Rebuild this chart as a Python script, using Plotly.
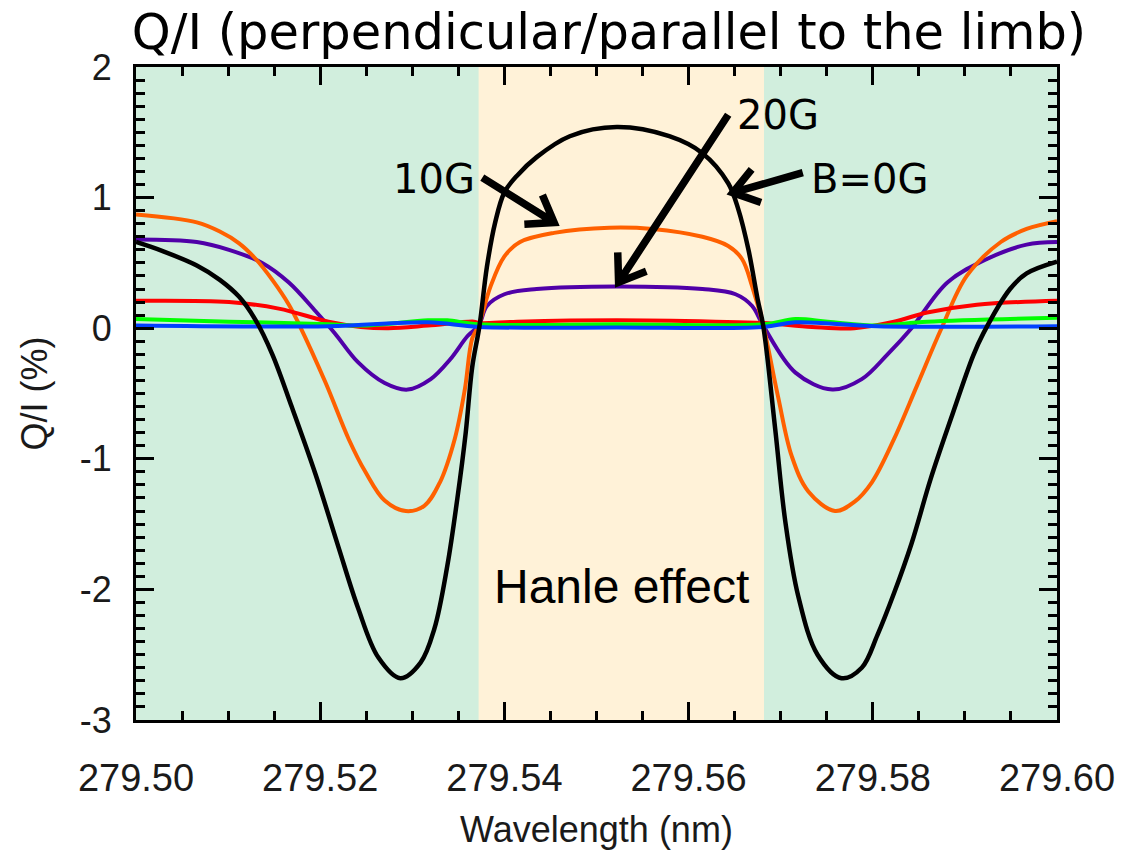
import math
import plotly.graph_objects as go

# ---------------- data ----------------
x_b0 = [279.5000, 279.5029, 279.5066, 279.5091, 279.5112, 279.5130, 279.5148, 279.5169, 279.5195,
        279.5220, 279.5241, 279.5263, 279.5287, 279.5309, 279.5324, 279.5338, 279.5349, 279.5358,
        279.5365, 279.5373, 279.5381, 279.5390, 279.5400, 279.5414, 279.5435, 279.5471, 279.5522,
        279.5579, 279.5615, 279.5643, 279.5654, 279.5665, 279.5675, 279.5681, 279.5694, 279.5705,
        279.5719, 279.5740, 279.5766, 279.5788, 279.5805, 279.5823, 279.5842, 279.5863, 279.5885,
        279.5909, 279.5920, 279.5949, 279.5967, 279.6000]
y_b0 = [0.66, 0.59, 0.48, 0.37, 0.24, 0.06, -0.20, -0.60, -1.12,
        -1.68, -2.14, -2.52, -2.68, -2.56, -2.30, -1.82, -1.30, -0.80,
        -0.30, 0.02, 0.47, 0.81, 1.04, 1.17, 1.31, 1.47, 1.54,
        1.47, 1.34, 1.11, 0.91, 0.60, 0.22, 0.02, -0.77, -1.48,
        -2.05, -2.50, -2.68, -2.60, -2.35, -2.03, -1.65, -1.15, -0.69,
        -0.21, -0.04, 0.30, 0.42, 0.51]

x_b10 = [279.5000, 279.5066, 279.5091, 279.5112, 279.5130, 279.5148, 279.5166, 279.5177, 279.5206,
         279.5231, 279.5249, 279.5270, 279.5293, 279.5313, 279.5330, 279.5346, 279.5357, 279.5365,
         279.5372, 279.5385, 279.5400, 279.5417, 279.5454, 279.5514, 279.5561, 279.5615, 279.5643,
         279.5658, 279.5669, 279.5681, 279.5697, 279.5712, 279.5730, 279.5759, 279.5780, 279.5799,
         279.5823, 279.5848, 279.5874, 279.5902, 279.5939, 279.5967, 279.6000]
y_b10 = [0.87, 0.81, 0.74, 0.65, 0.53, 0.37, 0.18, 0.03, -0.42,
         -0.85, -1.10, -1.32, -1.40, -1.36, -1.18, -0.85, -0.47, -0.08,
         0.02, 0.32, 0.55, 0.66, 0.73, 0.77, 0.76, 0.70, 0.63,
         0.53, 0.32, 0.02, -0.52, -0.98, -1.25, -1.40, -1.33, -1.18,
         -0.85, -0.44, -0.01, 0.40, 0.66, 0.76, 0.82]

x_b20 = [279.5000, 279.5066, 279.5101, 279.5137, 279.5166, 279.5195, 279.5216, 279.5241, 279.5270,
         279.5295, 279.5320, 279.5341, 279.5360, 279.5372, 279.5381, 279.5400, 279.5435, 279.5522,
         279.5615, 279.5651, 279.5669, 279.5681, 279.5716, 279.5756, 279.5788, 279.5816, 279.5842,
         279.5881, 279.5924, 279.5967, 279.6000]
y_b20 = [0.68, 0.66, 0.60, 0.50, 0.35, 0.13, -0.04, -0.26, -0.42,
         -0.47, -0.39, -0.24, -0.06, 0.02, 0.17, 0.26, 0.30, 0.32,
         0.30, 0.26, 0.17, 0.02, -0.34, -0.47, -0.39, -0.20, 0.00,
         0.35, 0.53, 0.64, 0.66]

x_b50 = [279.5000, 279.5101, 279.5155, 279.5209, 279.5244, 279.5274, 279.5317, 279.5367, 279.5372,
         279.5414, 279.5522, 279.5629, 279.5681, 279.5734, 279.5780, 279.5823, 279.5859, 279.5913, 279.6000]
y_b50 = [0.21, 0.20, 0.15, 0.05, 0.01, 0.00, 0.02, 0.05, 0.04,
         0.05, 0.06, 0.05, 0.04, 0.01, 0.00, 0.05, 0.12, 0.18, 0.21]

x_b100 = [279.5000, 279.5101, 279.5209, 279.5244, 279.5317, 279.5338, 279.5372, 279.5522, 279.5681,
          279.5716, 279.5751, 279.5805, 279.5859, 279.6000]
y_b100 = [0.07, 0.05, 0.03, 0.02, 0.06, 0.06, 0.03, 0.03, 0.03,
          0.07, 0.05, 0.02, 0.05, 0.08]

x_b200 = [279.5000, 279.5209, 279.5317, 279.5372, 279.5522, 279.5681, 279.5716, 279.5805, 279.6000]
y_b200 = [0.02, 0.015, 0.045, 0.01, 0.005, 0.01, 0.045, 0.015, 0.015]

series_names = ["B=0G", "10G", "20G", "50G", "100G", "200G"]
series_colors = ["#000000", "#FF6000", "#5000A8", "#FF0000", "#00FF00", "#0040FF"]

xtick_vals = [279.50, 279.52, 279.54, 279.56, 279.58, 279.60]
xtick_labels = ["279.50", "279.52", "279.54", "279.56", "279.58", "279.60"]
ytick_vals = [-3, -2, -1, 0, 1, 2]
ytick_labels = ["-3", "-2", "-1", "0", "1", "2"]

hanle_start = 279.5372
hanle_end = 279.5682

X_RANGE = [279.50, 279.60]
Y_RANGE = [-3.0, 2.0]

# ---------------- figure ----------------
W, H = 1127, 860
ML, MR, MT, MB = 136, 65, 67, 140
fig = go.Figure()

data_sets = [(x_b20, y_b20), (x_b10, y_b10), (x_b50, y_b50), (x_b100, y_b100), (x_b200, y_b200), (x_b0, y_b0)]
order_idx = [2, 1, 3, 4, 5, 0]
for (xs, ys), i in zip(data_sets, order_idx):
    fig.add_trace(go.Scatter(x=xs, y=ys, mode="lines", name=series_names[i],
                             line=dict(color=series_colors[i], width=4.5 if i == 0 else 4,
                                       shape="spline", smoothing=1.0),
                             showlegend=False, hoverinfo="skip"))

GREEN = "#D1EEDD"
BEIGE = "#FFF2D8"
fig.add_shape(type="rect", xref="x", yref="paper", x0=X_RANGE[0], x1=hanle_start, y0=0, y1=1,
              fillcolor=GREEN, line_width=0, layer="below")
fig.add_shape(type="rect", xref="x", yref="paper", x0=hanle_start, x1=hanle_end, y0=0, y1=1,
              fillcolor=BEIGE, line_width=0, layer="below")
fig.add_shape(type="rect", xref="x", yref="paper", x0=hanle_end, x1=X_RANGE[1], y0=0, y1=1,
              fillcolor=GREEN, line_width=0, layer="below")

# arrows (tail, tip) in data coordinates
plot_w = W - ML - MR
plot_h = H - MT - MB
kx = plot_w / (X_RANGE[1] - X_RANGE[0])
ky = plot_h / (Y_RANGE[1] - Y_RANGE[0])
arrows = [((279.5376, 1.153), (279.5454, 0.809)),
          ((279.5643, 1.634), (279.5524, 0.351)),
          ((279.5724, 1.191), (279.5648, 1.038))]
ARM = 30
HALF = math.radians(35)
for (tx, ty), (hx, hy) in arrows:
    dxp = (tx - hx) * kx
    dyp = (ty - hy) * ky
    ang = math.atan2(dyp, dxp)
    pts = []
    for s in (1, -1):
        a = ang + s * HALF
        pts.append((hx + ARM * math.cos(a) / kx, hy + ARM * math.sin(a) / ky))
    path = (f"M {tx},{ty} L {hx},{hy} "
            f"M {pts[0][0]},{pts[0][1]} L {hx},{hy} L {pts[1][0]},{pts[1][1]}")
    fig.add_shape(type="path", xref="x", yref="y", path=path,
                  line=dict(color="black", width=7.5), layer="above")

LBL_FONT = dict(family="DejaVu Sans, Verdana", size=40, color="black")
fig.add_annotation(x=279.5324, y=1.14, text="10G", showarrow=False, font=LBL_FONT,
                   xanchor="center", yanchor="middle")
fig.add_annotation(x=279.5697, y=1.63, text="20G", showarrow=False, font=LBL_FONT,
                   xanchor="center", yanchor="middle")
fig.add_annotation(x=279.5796, y=1.14, text="B=0G", showarrow=False, font=LBL_FONT,
                   xanchor="center", yanchor="middle")
fig.add_annotation(x=279.5527, y=-1.98, text="Hanle effect", showarrow=False,
                   font=dict(family="Liberation Sans, Arial", size=48, color="black"),
                   xanchor="center", yanchor="middle")

XTICKFONT = dict(family="Liberation Sans, Arial, Helvetica", size=38, color="#1a1a1a")
YTICKFONT = dict(family="Liberation Sans, Arial, Helvetica", size=36, color="#1a1a1a")
fig.update_xaxes(range=X_RANGE, tickvals=xtick_vals, ticktext=xtick_labels,
                 ticks="inside", ticklen=18, tickwidth=3, tickcolor="black",
                 showline=True, linewidth=3, linecolor="black", mirror="ticks",
                 minor=dict(dtick=0.005, tick0=279.5, ticks="inside", ticklen=9, tickwidth=2.5,
                            tickcolor="black", showgrid=False),
                 showgrid=False, zeroline=False, tickfont=XTICKFONT, ticklabelstandoff=22,
                 title=dict(text="Wavelength (nm)", font=YTICKFONT, standoff=20))
fig.update_yaxes(range=Y_RANGE, tickvals=ytick_vals, ticktext=ytick_labels,
                 ticks="inside", ticklen=18, tickwidth=3, tickcolor="black",
                 showline=True, linewidth=3, linecolor="black", mirror="ticks",
                 minor=dict(dtick=0.1, tick0=0, ticks="inside", ticklen=9, tickwidth=2.5,
                            tickcolor="black", showgrid=False),
                 showgrid=False, zeroline=False, tickfont=YTICKFONT, ticklabelstandoff=14,
                 title=dict(text="Q/I (%)", font=YTICKFONT, standoff=22))

fig.update_layout(
    width=W, height=H,
    margin=dict(l=ML, r=MR, t=MT, b=MB),
    paper_bgcolor="white", plot_bgcolor=GREEN,
    title=dict(text="Q/I (perpendicular/parallel to the limb)",
               font=dict(family="DejaVu Sans, Verdana", size=49.5, color="black"),
               xref="container", yref="container", x=609 / W, y=1 - 32 / H,
               xanchor="center", yanchor="middle"),
)

fig.write_html("out.html")
